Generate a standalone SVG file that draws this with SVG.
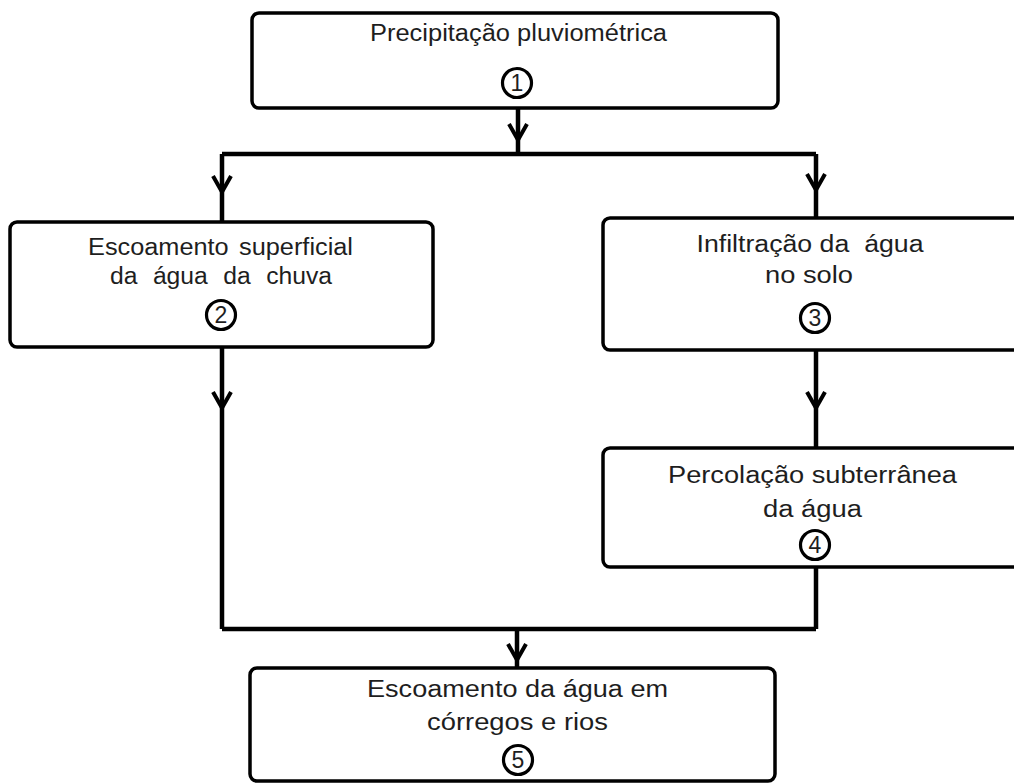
<svg xmlns="http://www.w3.org/2000/svg" width="1014" height="783" viewBox="0 0 1014 783">
<style>
.box{fill:#fff;stroke:#000;stroke-width:3.5}
.t{font-family:"Liberation Sans",Arial,sans-serif;font-size:23px;fill:#1e1e1e;text-anchor:middle}
.n{font-family:"Liberation Sans",Arial,sans-serif;font-size:23px;fill:#1e1e1e;text-anchor:middle}
.c{fill:#fff;stroke:#000;stroke-width:3.2}
.ln{fill:none;stroke:#000;stroke-width:4.5}
.ah{fill:none;stroke:#000;stroke-width:4;stroke-linejoin:miter}
</style>
<rect width="1014" height="783" fill="#fff"/>
<g id="connectors">
<path class="ln" d="M518,108 V154 M222,154 H816 M222,154 V222 M816,154 V218 M222,347 V629 M816,350 V448 M816,567 V629 M222,629 H816 M517,629 V668"/>
<path class="ah" d="M509,124 L518,140 L527,124"/>
<path class="ah" d="M213,176 L222,192 L231,176"/>
<path class="ah" d="M807,174 L816,190 L825,174"/>
<path class="ah" d="M213,392 L222,408 L231,392"/>
<path class="ah" d="M807,392 L816,408 L825,392"/>
<path class="ah" d="M508,644 L517,660 L526,644"/>
</g>
<g id="n1">
<rect class="box" x="252" y="13" width="526" height="95" rx="7"/>
<text class="t" x="518.5" y="41" textLength="297" lengthAdjust="spacingAndGlyphs">Precipitação pluviométrica</text>
<circle class="c" cx="517" cy="83" r="14.5"/>
<text class="n" x="517" y="91">1</text>
</g>
<g id="n2">
<rect class="box" x="10" y="222" width="423" height="125" rx="7"/>
<text class="t" x="220.5" y="255" textLength="265" lengthAdjust="spacingAndGlyphs" word-spacing="3">Escoamento superficial</text>
<text class="t" x="221" y="284" textLength="222" lengthAdjust="spacingAndGlyphs" word-spacing="8">da água da chuva</text>
<circle class="c" cx="221" cy="315" r="14.5"/>
<text class="n" x="221" y="323">2</text>
</g>
<g id="n3">
<rect class="box" x="603" y="218" width="430" height="132" rx="7"/>
<text class="t" x="810" y="252" textLength="227" lengthAdjust="spacingAndGlyphs" xml:space="preserve">Infiltração da  água</text>
<text class="t" x="809" y="283" textLength="88" lengthAdjust="spacingAndGlyphs">no solo</text>
<circle class="c" cx="815" cy="318" r="14.5"/>
<text class="n" x="815" y="326">3</text>
</g>
<g id="n4">
<rect class="box" x="603" y="448" width="430" height="119" rx="7"/>
<text class="t" x="812.5" y="483" textLength="289" lengthAdjust="spacingAndGlyphs">Percolação subterrânea</text>
<text class="t" x="812.5" y="517" textLength="99" lengthAdjust="spacingAndGlyphs">da água</text>
<circle class="c" cx="815" cy="545" r="14.5"/>
<text class="n" x="815" y="553">4</text>
</g>
<g id="n5">
<rect class="box" x="250" y="668" width="525" height="113" rx="7"/>
<text class="t" x="517.5" y="697" textLength="301" lengthAdjust="spacingAndGlyphs">Escoamento da água em</text>
<text class="t" x="517.5" y="730" textLength="181" lengthAdjust="spacingAndGlyphs">córregos e rios</text>
<circle class="c" cx="518" cy="760" r="14.5"/>
<text class="n" x="518" y="768">5</text>
</g>
</svg>
